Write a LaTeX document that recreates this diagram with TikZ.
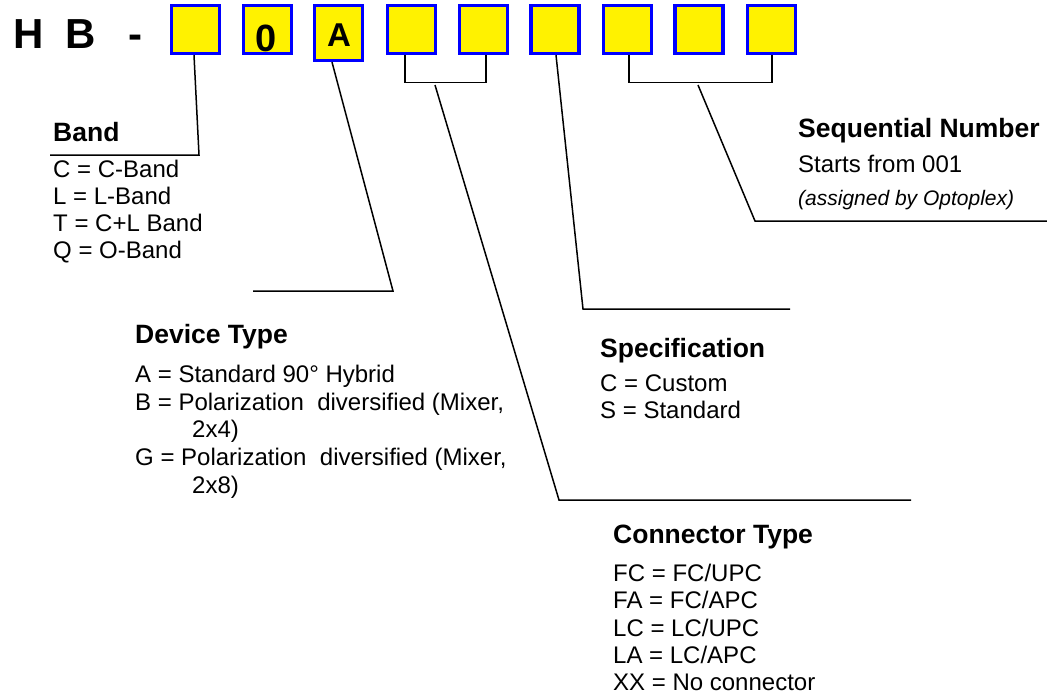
\documentclass[tikz,border=0pt]{standalone}
\usepackage{fontspec}
\setmainfont{Liberation Sans}
\begin{document}
\begin{tikzpicture}[x=1pt,y=-1pt,
  digit/.style={draw=blue,fill=yellow,line width=3.2pt,minimum width=48pt,minimum height=48pt,inner sep=0pt},
  big/.style={font=\fontsize{42}{46}\selectfont\bfseries,anchor=base west,inner sep=0pt},
  title/.style={font=\fontsize{26.5}{30}\selectfont\bfseries,anchor=base west,inner sep=0pt},
  item/.style={font=\fontsize{24}{27}\selectfont,anchor=base west,inner sep=0pt},
  note/.style={font=\fontsize{21}{25}\selectfont\itshape,anchor=base west,inner sep=0pt},
  conn/.style={draw=black,line width=1.5pt,line join=miter}]
\useasboundingbox (0,0) rectangle (1047,697);
% heading
\node[big] (h) at (13,48) {H};
\node[big] (bb) at (65,48) {B};
\node[big] (dash) at (128,48) {-};
% boxes
\node[digit] (b1) at (195.5,29.5) {};
\node[digit] (b2) at (267.5,29.5) {};
\node[digit,minimum height=55pt] (b3) at (338.5,33) {};
\node[digit] (b4) at (411.5,29.5) {};
\node[digit] (b5) at (483.5,29.5) {};
\node[digit] (b6) at (555,29.5) {};
\node[digit] (b7) at (627.5,29.5) {};
\node[digit] (b8) at (699,29.5) {};
\node[digit] (b9) at (771.5,29.5) {};
\node[font=\fontsize{38}{40}\selectfont\bfseries,anchor=base,inner sep=0pt] (zero) at (266.5,51) {0};
\node[font=\fontsize{33}{36}\selectfont\bfseries,anchor=base,inner sep=0pt] (ltrA) at (339,46) {A};
% Band
\node[title] (band) at (53,141) {Band};
\node[item] (band1) at (53,177) {C = C-Band};
\node[item] (band2) at (53,204) {L = L-Band};
\node[item] (band3) at (53,231) {T = C+L Band};
\node[item] (band4) at (53,258) {Q = O-Band};
% Device type
\node[title] (dev) at (135,343) {Device Type};
\node[item] (dev1) at (135,382) {A = Standard 90° Hybrid};
\node[item] (dev2) at (135,410) {B = Polarization~ diversified (Mixer,};
\node[item] (dev3) at (192,437) {2x4)};
\node[item] (dev4) at (135,465) {G = Polarization~ diversified (Mixer,};
\node[item] (dev5) at (192,493) {2x8)};
% Specification
\node[title] (spec) at (600,357) {Specification};
\node[item] (spec1) at (600,391) {C = Custom};
\node[item] (spec2) at (600,418) {S = Standard};
% Connector type
\node[title] (con) at (613,543) {Connector Type};
\node[item] (con1) at (613,581) {FC = FC/UPC};
\node[item] (con2) at (613,608) {FA = FC/APC};
\node[item] (con3) at (613,636) {LC = LC/UPC};
\node[item] (con4) at (613,663) {LA = LC/APC};
\node[item] (con5) at (613,690) {XX = No connector};
% Sequential number
\node[title] (seq) at (798,137) {Sequential Number};
\node[item] (seq1) at (798,172) {Starts from 001};
\node[note] (seq2) at (798,205) {(assigned by Optoplex)};
% connector coordinates
\coordinate (k1) at (199,155);
\coordinate (k1e) at (50,155);
\coordinate (k3) at (393,291);
\coordinate (k3e) at (253,291);
\coordinate (k45) at (435,85);
\coordinate (k45b) at (559,500);
\coordinate (k45e) at (911,500);
\coordinate (k6) at (583,309);
\coordinate (k6e) at (790,309);
\coordinate (k79) at (698,85);
\coordinate (k79b) at (755,221);
\coordinate (k79e) at (1047,221);
% connectors
\draw[conn] ([xshift=-1.5pt]b1.south) -- (k1) -- (k1e);
\draw[conn] ([xshift=-6.5pt]b3.south) -- (k3) -- (k3e);
\draw[conn] ([xshift=-6.5pt]b4.south) -- ++(0,27.5) -| ([xshift=2.5pt]b5.south);
\draw[conn] (k45) -- (k45b) -- (k45e);
\draw[conn] ([xshift=1pt]b6.south) -- (k6) -- (k6e);
\draw[conn] ([xshift=1.5pt]b7.south) -- ++(0,27.5) -| ([xshift=0.5pt]b9.south);
\draw[conn] (k79) -- (k79b) -- (k79e);
\end{tikzpicture}
\end{document}
